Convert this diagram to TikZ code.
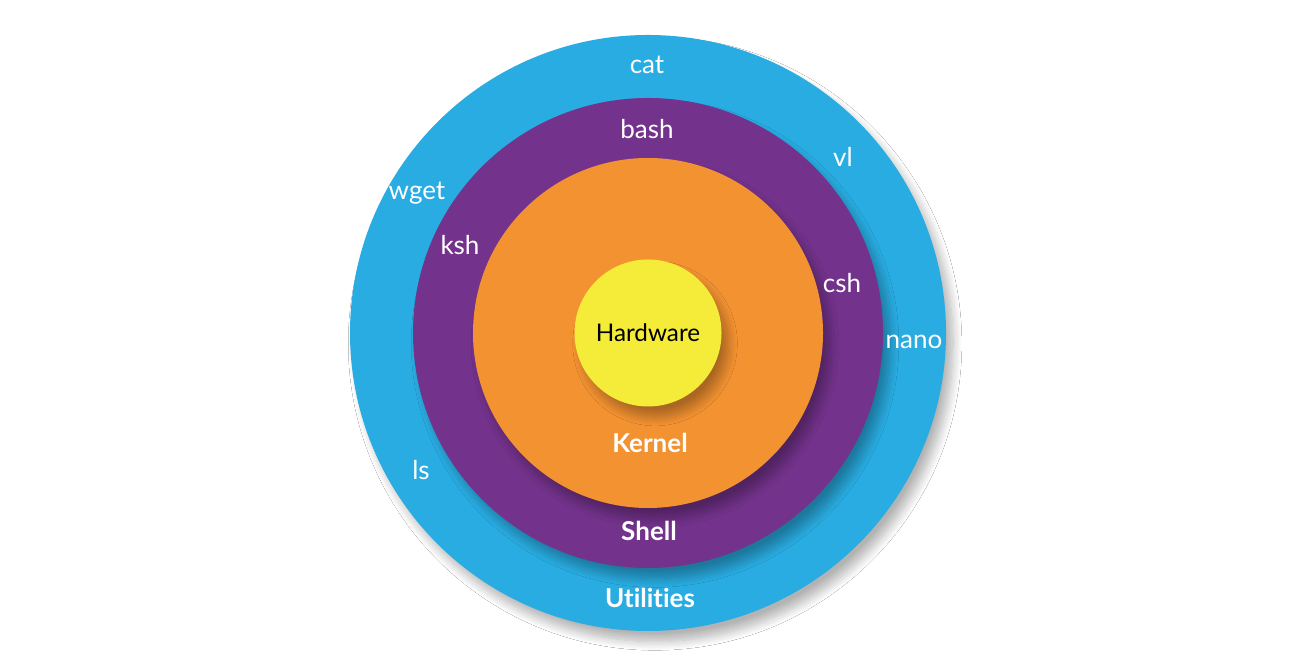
\documentclass[tikz,border=0pt]{standalone}
\usepackage{fontspec}
\setmainfont{Lato}[Ligatures=NoCommon]
\usetikzlibrary{shadows.blur}
\definecolor{utilblue}{HTML}{29ACE1}
\definecolor{shellpurple}{HTML}{73328B}
\definecolor{kernelorange}{HTML}{F39231}
\definecolor{hwyellow}{HTML}{F5EC3A}
\tikzset{
    layer/.style={blur shadow={shadow xshift=2pt, shadow yshift=-3pt, shadow blur radius=2.5pt, shadow blur steps=12, shadow opacity=30}},
    tool/.style={text=white, font=\fontsize{7.4}{9}\selectfont},
    title/.style={text=white, font=\fontsize{7.4}{9}\selectfont\bfseries}
}
\begin{document}
\begin{tikzpicture}
        \useasboundingbox[fill=white] (0,0) rectangle (13,6.62);
        \coordinate (core) at (6.48,3.29);
        \foreach \r/\c in {2.98/utilblue, 2.35/shellpurple, 1.75/kernelorange, 0.735/hwyellow} {
                \fill[\c, layer] (core) circle (\r);
            }
        \node[font=\fontsize{6.9}{9}\selectfont] (hw) at (core) {Hardware};
        \node[title] (kernel) at (6.50,2.19) {Kernel};
        \node[title] (shell) at (6.49,1.31) {Shell};
        \node[title] (util) at (6.50,0.64) {Utilities};
        \node[tool] (cat) at (6.47,5.97) {cat};
        \node[tool] (bash) at (6.47,5.33) {bash};
        \node[tool] (vl) at (8.43,5.05) {vl};
        \node[tool] (wget) at (4.17,4.69) {wget};
        \node[tool] (ksh) at (4.60,4.17) {ksh};
        \node[tool] (csh) at (8.42,3.79) {csh};
        \node[tool] (nano) at (9.14,3.20) {nano};
        \node[tool] (ls) at (4.21,1.92) {ls};
    \end{tikzpicture}
\end{document}
